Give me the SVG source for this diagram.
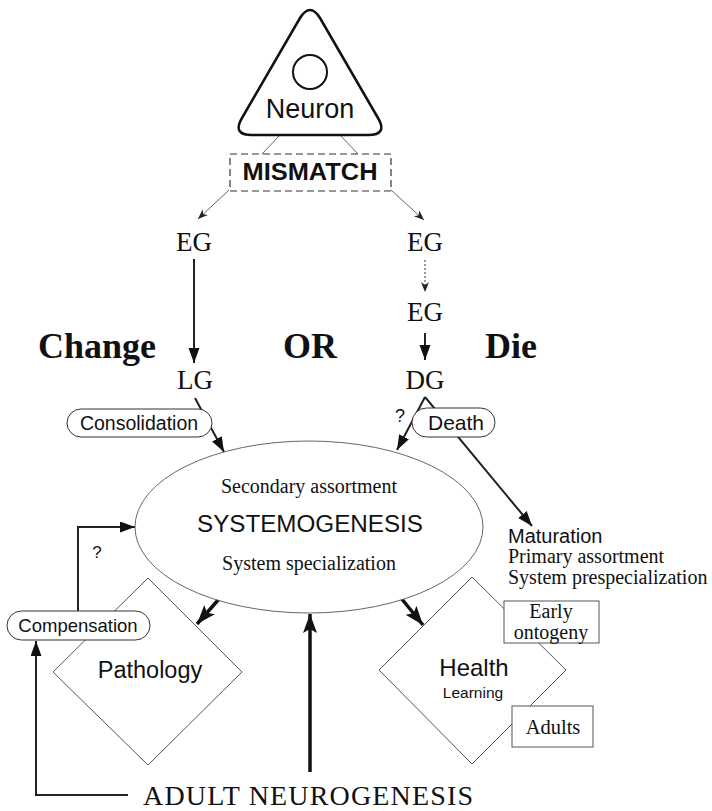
<svg xmlns="http://www.w3.org/2000/svg" width="712" height="811" viewBox="0 0 712 811">
<style>
.sans{font-family:"Liberation Sans",Arial,sans-serif;fill:#111}
.serif{font-family:"Liberation Serif","Times New Roman",serif;fill:#111}
.thin{fill:none;stroke:#555;stroke-width:0.9}
.box{fill:#fff;stroke:#555;stroke-width:1}
.pill{fill:#fff;stroke:#333;stroke-width:1}
.c1{fill:none;stroke:#222;stroke-width:2}
.c3{fill:none;stroke:#111;stroke-width:3.5}
</style>
<defs>
<marker id="aS" markerUnits="userSpaceOnUse" markerWidth="12" markerHeight="10" refX="10" refY="4" orient="auto"><path d="M0,0 L10,4 L0,8 L3,4 Z" fill="#222"/></marker>
<marker id="aM" markerUnits="userSpaceOnUse" markerWidth="16" markerHeight="12" refX="15" refY="5.5" orient="auto"><path d="M0,0 L15,5.5 L0,11 Z" fill="#111"/></marker>
<marker id="aL" markerUnits="userSpaceOnUse" markerWidth="20" markerHeight="16" refX="19" refY="7" orient="auto"><path d="M0,0 L19,7 L0,14 L4,7 Z" fill="#111"/></marker>
</defs>
<rect width="712" height="811" fill="#fff"/>

<g id="connectors">
<line class="thin" x1="280" y1="135" x2="262" y2="154"/>
<line class="thin" x1="340" y1="135" x2="358" y2="154"/>
<line class="thin" x1="229" y1="190" x2="198" y2="219" marker-end="url(#aS)"/>
<line class="thin" x1="391" y1="190" x2="424" y2="220" marker-end="url(#aS)"/>
<line class="c1" x1="194" y1="259" x2="194" y2="363" marker-end="url(#aM)"/>
<line x1="425" y1="260" x2="425" y2="292" stroke="#333" stroke-width="1" stroke-dasharray="2,2" marker-end="url(#aS)"/>
<line class="c1" x1="425" y1="333" x2="425" y2="360" marker-end="url(#aM)"/>
<line class="c1" x1="195" y1="398" x2="224" y2="452" marker-end="url(#aM)"/>
<polyline class="c1" points="425,397 397,450" marker-end="url(#aM)"/>
<polyline class="c1" points="425,397 532,526" marker-end="url(#aM)"/>
<line class="c3" x1="219" y1="599" x2="197" y2="624" marker-end="url(#aL)"/>
<line class="c3" x1="401" y1="598" x2="423" y2="625" marker-end="url(#aL)"/>
<line class="c3" x1="310" y1="772" x2="310" y2="614" marker-end="url(#aL)"/>
<polyline class="c1" points="78,611 78,527 135,527" marker-end="url(#aM)"/>
<polyline class="c1" points="128,795 36,795 36,641" marker-end="url(#aM)"/>
</g>

<g id="neuron">
<path d="M 300,18 Q 310,2 320,18 L 378,118 Q 388,135 368,135 L 252,135 Q 232,135 242,118 Z" fill="#fff" stroke="#111" stroke-width="2.5"/>
<circle cx="310" cy="72" r="17" fill="#fff" stroke="#111" stroke-width="2"/>
<text class="sans" x="310" y="118" font-size="27" text-anchor="middle">Neuron</text>
</g>

<g id="mismatch">
<rect x="230" y="154" width="161" height="37" fill="#fff" stroke="#333" stroke-width="1.2" stroke-dasharray="7,4"/>
<text class="sans" x="310" y="180" font-size="24" font-weight="bold" text-anchor="middle" textLength="135" lengthAdjust="spacingAndGlyphs">MISMATCH</text>
</g>

<g id="eg-left"><text class="serif" x="194" y="251" font-size="27" text-anchor="middle">EG</text></g>
<g id="lg"><text class="serif" x="195" y="389" font-size="27" text-anchor="middle">LG</text></g>
<g id="eg-right1"><text class="serif" x="425" y="251" font-size="27" text-anchor="middle">EG</text></g>
<g id="eg-right2"><text class="serif" x="425" y="321" font-size="27" text-anchor="middle">EG</text></g>
<g id="dg"><text class="serif" x="425" y="389" font-size="27" text-anchor="middle">DG</text></g>

<g id="labels">
<text class="serif" x="97" y="358" font-size="36" font-weight="bold" text-anchor="middle">Change</text>
<text class="serif" x="310" y="358" font-size="36" font-weight="bold" text-anchor="middle">OR</text>
<text class="serif" x="511" y="358" font-size="36" font-weight="bold" text-anchor="middle">Die</text>
<text class="sans" x="400" y="422" font-size="18" text-anchor="middle">?</text>
<text class="sans" x="97" y="558" font-size="17" text-anchor="middle">?</text>
</g>

<g id="consolidation">
<rect x="67" y="409" width="145" height="28" rx="14" class="pill"/>
<text class="sans" x="139" y="430" font-size="19.5" text-anchor="middle">Consolidation</text>
</g>

<g id="death">
<rect x="412" y="408" width="83" height="29" rx="14.5" class="pill"/>
<text class="sans" x="456" y="430" font-size="21" text-anchor="middle">Death</text>
</g>

<g id="systemogenesis">
<ellipse cx="309" cy="527" rx="174" ry="86" fill="#fff" stroke="#555" stroke-width="0.9"/>
<text class="serif" x="309" y="493" font-size="20" text-anchor="middle">Secondary assortment</text>
<text class="sans" x="310" y="532" font-size="23" text-anchor="middle" textLength="226" lengthAdjust="spacingAndGlyphs">SYSTEMOGENESIS</text>
<text class="serif" x="309" y="570" font-size="20" text-anchor="middle">System specialization</text>
</g>

<g id="maturation">
<text class="sans" x="508" y="543" font-size="20">Maturation</text>
<text class="serif" x="508" y="563" font-size="20">Primary assortment</text>
<text class="serif" x="508" y="584" font-size="20">System prespecialization</text>
</g>

<g id="pathology">
<polygon points="148,578 242,672 148,765 53,672" class="box"/>
<text class="sans" x="150" y="678" font-size="23.5" text-anchor="middle">Pathology</text>
</g>

<g id="compensation">
<rect x="7" y="611" width="143" height="29" rx="14.5" class="pill"/>
<text class="sans" x="78" y="632" font-size="18.5" text-anchor="middle">Compensation</text>
</g>

<g id="health">
<polygon points="472,577 566,670 472,764 379,670" class="box"/>
<text class="sans" x="474" y="676" font-size="24" text-anchor="middle">Health</text>
<text class="sans" x="473" y="698" font-size="15.5" text-anchor="middle">Learning</text>
</g>

<g id="early-ontogeny">
<rect x="504" y="601" width="95" height="42" class="box"/>
<text class="serif" x="551" y="618" font-size="20" text-anchor="middle">Early</text>
<text class="serif" x="551" y="639" font-size="20" text-anchor="middle">ontogeny</text>
</g>

<g id="adults">
<rect x="512" y="706" width="81" height="41" class="box"/>
<text class="serif" x="553" y="734" font-size="20.5" text-anchor="middle">Adults</text>
</g>

<g id="adult-neurogenesis">
<text class="serif" x="308" y="805" font-size="28" text-anchor="middle" textLength="330" lengthAdjust="spacing">ADULT NEUROGENESIS</text>
</g>
</svg>
